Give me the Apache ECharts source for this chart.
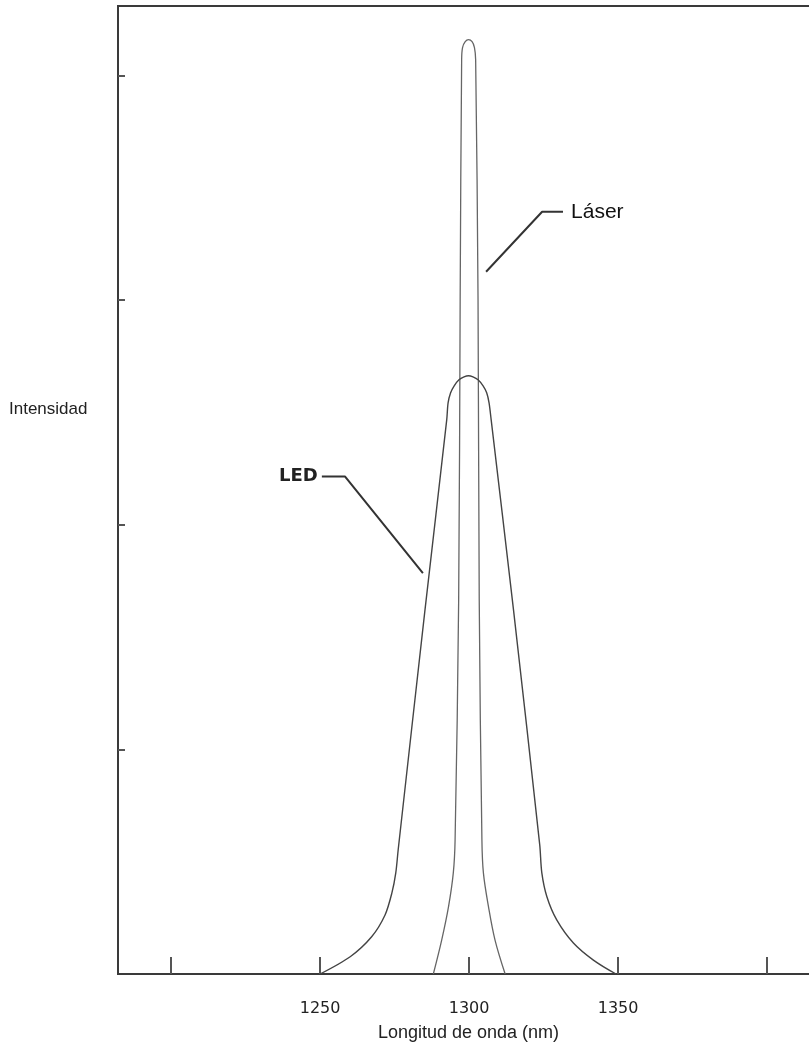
<!DOCTYPE html>
<html>
<head>
<meta charset="utf-8">
<script src="https://cdn.jsdelivr.net/npm/echarts@6/dist/echarts.min.js"></script>
<style>
html,body{margin:0;padding:0;background:#fff;}
#chart{width:809px;height:1049px;}
</style>
</head>
<body>
<div id="chart"></div>
<script>
// Wavelength (nm) / intensity pairs
const laserX = [1288.0,1290.8,1293.1,1294.7,1295.3,1296.5,1297.0,1297.5,1297.8,1298.7,1299.8,1301.0,1301.8,1302.2,1303.0,1303.4,1304.3,1304.8,1306.5,1308.7,1312.1];
const laserY = [0,0.151,0.300,0.450,0.597,1.666,3.002,4.071,4.125,4.151,4.160,4.151,4.125,4.071,3.002,1.666,0.597,0.450,0.300,0.151,0];
const ledX = [1250.0,1260.1,1267.3,1271.8,1274.1,1275.4,1276.2,1285.2,1292.5,1292.95,1293.8,1295.0,1296.6,1298.3,1299.8,1301.3,1303.0,1304.7,1305.9,1306.7,1307.4,1314.9,1323.7,1324.4,1326.1,1329.4,1335.0,1341.7,1349.3];
const ledY = [0,0.077,0.166,0.263,0.361,0.450,0.552,1.621,2.468,2.543,2.588,2.619,2.646,2.659,2.664,2.659,2.646,2.619,2.588,2.543,2.468,1.621,0.575,0.450,0.344,0.241,0.138,0.062,0];
// leader lines for annotations
const laserLeaderX = [1305.7,1324.5,1331.5];
const laserLeaderY = [3.127,3.394,3.394];
const ledLeaderX = [1250.6,1258.4,1284.5];
const ledLeaderY = [2.215,2.215,1.785];
const xTicks = [1200,1250,1300,1350,1400];
const xTickLabels = [1250,1300,1350];
const yTicks = [1,2,3,4];
const labels = {laser:'Láser', led:'LED', xName:'Longitud de onda (nm)', yName:'Intensidad'};

const zip = (xs, ys) => xs.map((x,i)=>[x, ys[i]]);

const chart = echarts.init(document.getElementById('chart'), null, {renderer:'canvas'});
const laserLeader = zip(laserLeaderX, laserLeaderY).map((p,i,a)=> i===a.length-1 ? {value:p, label:{show:true, position:'right', distance:8, formatter:labels.laser, color:'#111', fontFamily:'Liberation Sans, Arial, sans-serif', fontSize:21}} : {value:p});
const ledLeader = zip(ledLeaderX, ledLeaderY).map((p,i)=> i===0 ? {value:p, label:{show:true, position:'left', distance:4, formatter:labels.led, color:'#222', fontWeight:'bold', fontFamily:'DejaVu Sans, Verdana, sans-serif', fontSize:18}} : {value:p});

chart.setOption({
  animation:false,
  backgroundColor:'#fff',
  title:{text:labels.yName, left:9, top:401, padding:0, textStyle:{color:'#222', fontWeight:'normal', fontFamily:'Liberation Sans, Arial, sans-serif', fontSize:17}},
  grid:{left:118, right:-10, top:6, bottom:75, show:true, borderColor:'#3a3a3a', borderWidth:2, containLabel:false, outerBoundsMode:'none'},
  xAxis:{
    type:'value', min:1182.2, max:1417.4,
    name:labels.xName, nameLocation:'middle', nameGap:50,
    nameTextStyle:{color:'#222', fontFamily:'Liberation Sans, Arial, sans-serif', fontSize:18},
    axisLine:{show:true, onZero:false, lineStyle:{color:'#3a3a3a', width:2}},
    axisTick:{show:true, inside:true, length:17, customValues:xTicks, lineStyle:{color:'#555', width:2}},
    axisLabel:{show:true, customValues:xTickLabels, margin:27, color:'#222', fontFamily:'DejaVu Sans, Verdana, sans-serif', fontSize:16, formatter:(v)=>String(v)},
    splitLine:{show:false}
  },
  yAxis:{
    type:'value', min:0, max:4.31,
    axisLine:{show:true, lineStyle:{color:'#3a3a3a', width:2}},
    axisTick:{show:true, inside:true, length:7, customValues:yTicks, lineStyle:{color:'#555', width:2}},
    axisLabel:{show:false},
    splitLine:{show:false}
  },
  series:[
    {type:'line', name:'LED', data:zip(ledX, ledY), smooth:0.3, symbol:'none', lineStyle:{color:'#444', width:1.4}, z:3},
    {type:'line', name:'Laser', data:zip(laserX, laserY), smooth:0.35, symbol:'none', lineStyle:{color:'#666', width:1.3}, z:2},
    {type:'line', data:laserLeader, symbol:'circle', symbolSize:0.1, showSymbol:true, itemStyle:{color:'#333'}, lineStyle:{color:'#333', width:2}, z:4},
    {type:'line', data:ledLeader, symbol:'circle', symbolSize:0.1, showSymbol:true, itemStyle:{color:'#333'}, lineStyle:{color:'#333', width:2}, z:4}
  ]
});
</script>
</body>
</html>
